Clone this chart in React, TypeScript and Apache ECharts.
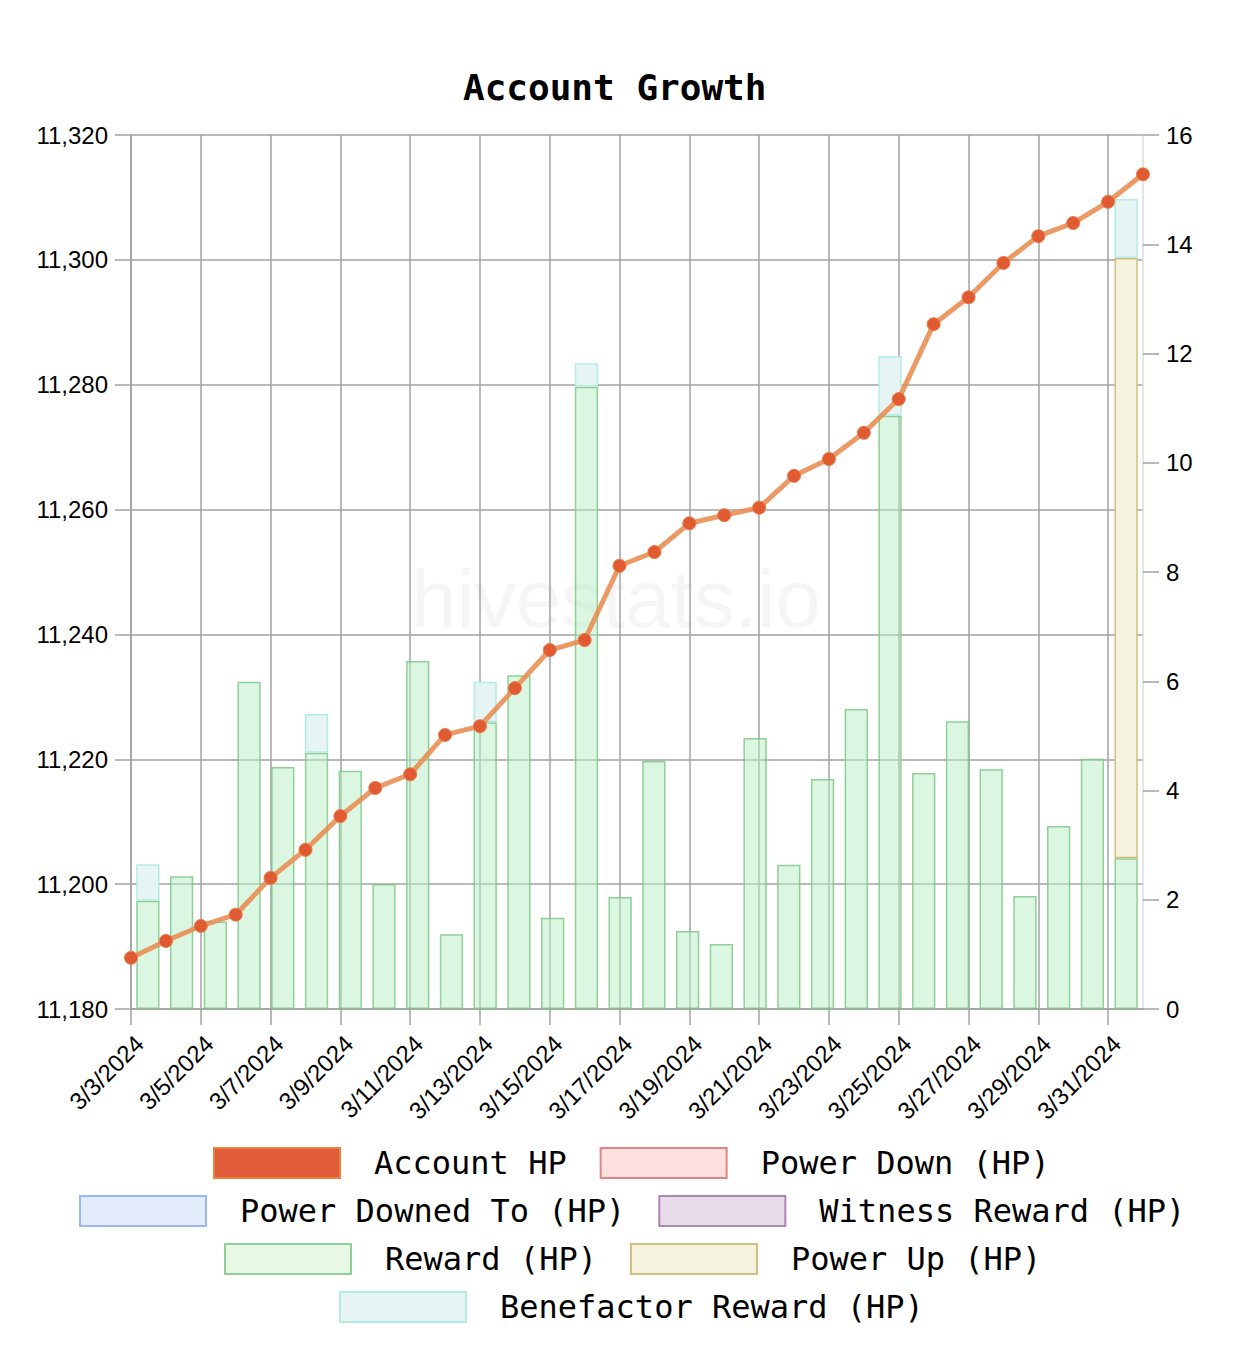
import React, { useEffect, useRef } from "react";
import * as echarts from "echarts";

const dates = [
  "3/3/2024", "3/4/2024", "3/5/2024", "3/6/2024", "3/7/2024", "3/8/2024", "3/9/2024", "3/10/2024",
  "3/11/2024", "3/12/2024", "3/13/2024", "3/14/2024", "3/15/2024", "3/16/2024", "3/17/2024", "3/18/2024",
  "3/19/2024", "3/20/2024", "3/21/2024", "3/22/2024", "3/23/2024", "3/24/2024", "3/25/2024", "3/26/2024",
  "3/27/2024", "3/28/2024", "3/29/2024", "3/30/2024", "3/31/2024", "4/1/2024",
];

const accountHP = [
  11188.2, 11190.9, 11193.3, 11195.1, 11201.0, 11205.5, 11210.9, 11215.4, 11217.6, 11223.9,
  11225.3, 11231.4, 11237.5, 11239.1, 11251.0, 11253.2, 11257.8, 11259.1, 11260.3, 11265.4,
  11268.1, 11272.3, 11277.7, 11289.7, 11294.0, 11299.5, 11303.8, 11305.9, 11309.3, 11313.7,
];

const rewardHP = [
  1.98, 2.43, 1.6, 5.99, 4.43, 4.69, 4.36, 2.29, 6.37, 1.37, 5.25, 6.11, 1.67, 11.39, 2.05,
  4.54, 1.43, 1.19, 4.96, 2.64, 4.21, 5.49, 10.86, 4.32, 5.27, 4.39, 2.07, 3.35, 4.58, 2.76,
];

const powerUpHP = [
  null, null, null, null, null, null, null, null, null, null, null, null, null, null, null,
  null, null, null, null, null, null, null, null, null, null, null, null, null, null, 10.99,
];

const benefactorHP = [
  0.67, null, null, null, null, 0.71, null, null, null, null, 0.74, null, null, 0.43, null,
  null, null, null, null, null, null, null, 1.09, null, null, null, null, null, null, 1.08,
];

const powerDownHP: (number | null)[] = [];
const powerDownedToHP: (number | null)[] = [];
const witnessRewardHP: (number | null)[] = [];

const leftTicks = { min: 11180, max: 11320, interval: 20 };
const rightTicks = { min: 0, max: 16, interval: 2 };

const MONO = '"DejaVu Sans Mono", monospace';
const SANS = '"Liberation Sans", Arial, sans-serif';

const styles: Record<string, { fill: string; border: string; legendFill?: string }> = {
  "Power Down (HP)": { fill: "#fbe0df", border: "#e08682" },
  "Power Downed To (HP)": { fill: "#e3ecfb", border: "#98b8ef" },
  "Witness Reward (HP)": { fill: "#e8dcea", border: "#ae86b6" },
  "Reward (HP)": { fill: "rgba(186,240,196,0.5)", border: "rgba(120,196,130,0.8)", legendFill: "#e7f8e5" },
  "Power Up (HP)": { fill: "#f5f3e0", border: "#cfc07e" },
  "Benefactor Reward (HP)": { fill: "#e6f4f4", border: "#b4ece2" },
};

function legendItem(name: string) {
  if (name === "Account HP") {
    return {
      name,
      icon: "rect",
      itemStyle: { color: "#e05c3a", borderColor: "#e8803e", borderWidth: 2 },
    };
  }
  const s = styles[name];
  return {
    name,
    icon: "rect",
    itemStyle: { color: s.legendFill || s.fill, borderColor: s.border, borderWidth: 2 },
  };
}

function legendRow(names: string[], left: number, top: number) {
  return {
    left,
    top,
    padding: 0,
    itemWidth: 126,
    itemHeight: 30,
    itemGap: 33,
    data: names.map(legendItem),
    textStyle: {
      fontFamily: MONO,
      fontSize: 32,
      color: "#000",
      padding: [0, 0, 0, 29],
    },
    selectedMode: false,
  };
}

function barSeries(name: string, data: (number | null)[]) {
  const s = styles[name];
  return {
    name,
    type: "bar",
    xAxisIndex: 1,
    yAxisIndex: 1,
    stack: "hp",
    barCategoryGap: "31%",
    data,
    itemStyle: { color: s.fill, borderColor: s.border, borderWidth: 1.5 },
    z: 2,
  };
}

export default function App() {
  const ref = useRef<HTMLDivElement>(null);
  useEffect(() => {
    if (!ref.current) return;
    const chart = echarts.init(ref.current, undefined, { renderer: "svg" });
    const gridColor = "#a2a2a2";
    chart.setOption({
      animation: false,
      backgroundColor: "#fff",
      title: {
        text: "Account Growth",
        left: 458,
        top: 64,
        textStyle: { fontFamily: MONO, fontWeight: "bold", fontSize: 36, color: "#000" },
      },
      graphic: [
        {
          type: "text",
          x: 616,
          y: 598,
          z: 0,
          style: {
            text: "hivestats.io",
            font: '82px "Liberation Sans", Arial, sans-serif',
            fill: "rgba(0,0,0,0.04)",
            align: "center",
            verticalAlign: "middle",
          },
        },
      ],
      legend: [
        legendRow(["Account HP", "Power Down (HP)"], 213, 1147),
        legendRow(["Power Downed To (HP)", "Witness Reward (HP)"], 79, 1195),
        legendRow(["Reward (HP)", "Power Up (HP)"], 224, 1243),
        legendRow(["Benefactor Reward (HP)"], 339, 1291),
      ],
      grid: { left: 131, right: 105, top: 135, bottom: 337, containLabel: false },
      xAxis: [
        {
          type: "category",
          data: dates,
          boundaryGap: false,
          axisLine: { show: true, lineStyle: { color: gridColor, width: 1.5 } },
          axisTick: { show: true, interval: 1, length: 16, lineStyle: { color: gridColor, width: 1.5 } },
          splitLine: { show: true, interval: 1, lineStyle: { color: gridColor, width: 1.5 } },
          axisLabel: {
            interval: 1,
            rotate: 45,
            margin: 22,
            fontFamily: SANS,
            fontSize: 24,
            color: "#000",
            verticalAlign: "top",
          },
        },
        {
          type: "category",
          data: dates,
          boundaryGap: true,
          show: false,
        },
      ],
      yAxis: [
        {
          type: "value",
          position: "left",
          min: leftTicks.min,
          max: leftTicks.max,
          interval: leftTicks.interval,
          axisLine: { show: true, lineStyle: { color: gridColor, width: 1.5 } },
          axisTick: { show: true, length: 16, lineStyle: { color: gridColor, width: 1.5 } },
          splitLine: { show: true, lineStyle: { color: gridColor, width: 1.5 } },
          axisLabel: {
            margin: 23,
            fontFamily: SANS,
            fontSize: 24,
            color: "#000",
            formatter: (v: number) => v.toLocaleString("en-US"),
          },
        },
        {
          type: "value",
          position: "right",
          min: rightTicks.min,
          max: rightTicks.max,
          interval: rightTicks.interval,
          axisLine: { show: true, lineStyle: { color: "#dddddd", width: 1.5 } },
          axisTick: { show: true, length: 16, lineStyle: { color: gridColor, width: 1.5 } },
          splitLine: { show: false },
          axisLabel: {
            margin: 23,
            fontFamily: SANS,
            fontSize: 24,
            color: "#000",
          },
        },
      ],
      series: [
        {
          name: "Account HP",
          type: "line",
          xAxisIndex: 0,
          yAxisIndex: 0,
          data: accountHP,
          symbol: "circle",
          symbolSize: 13,
          lineStyle: { color: "rgba(232,140,80,0.88)", width: 5 },
          itemStyle: { color: "#e05a32", borderColor: "#ea7c48", borderWidth: 1 },
          z: 5,
        },
        barSeries("Power Down (HP)", powerDownHP),
        barSeries("Power Downed To (HP)", powerDownedToHP),
        barSeries("Witness Reward (HP)", witnessRewardHP),
        barSeries("Reward (HP)", rewardHP),
        barSeries("Power Up (HP)", powerUpHP),
        barSeries("Benefactor Reward (HP)", benefactorHP),
      ],
    });
    return () => chart.dispose();
  }, []);
  return (
    <div
      ref={ref}
      style={{ position: "absolute", left: 0, top: 0, width: 1248, height: 1346, background: "#fff" }}
    />
  );
}
